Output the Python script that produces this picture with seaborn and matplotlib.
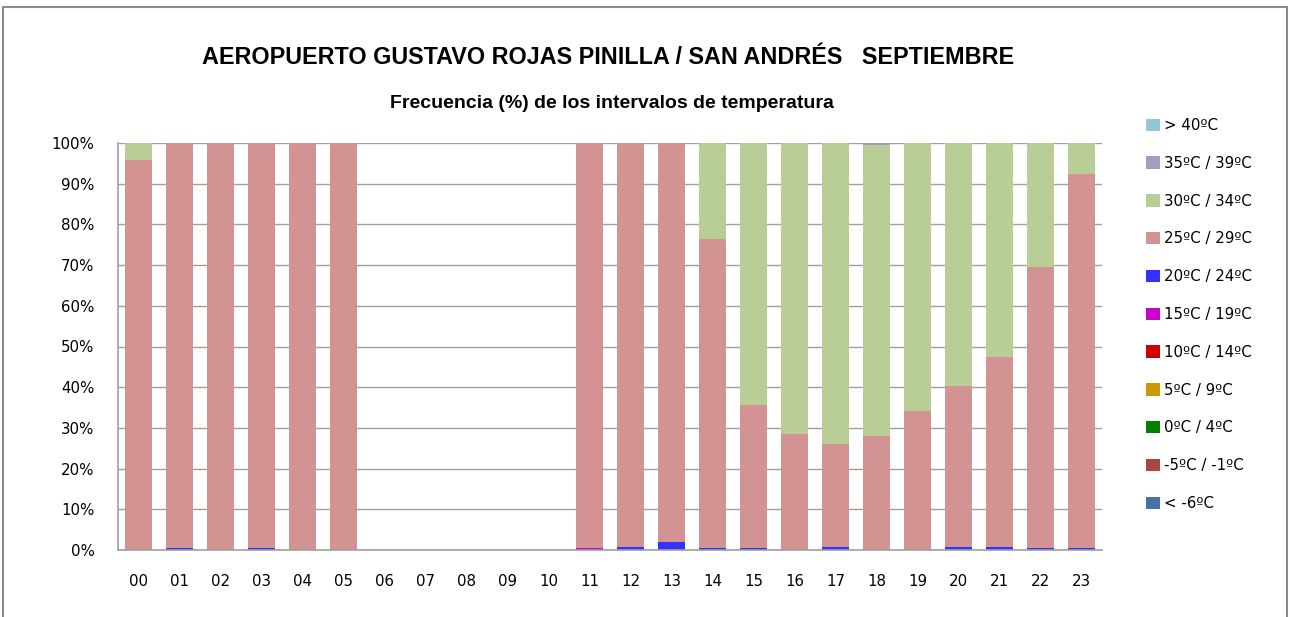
import matplotlib
matplotlib.use("Agg")
import matplotlib.pyplot as plt
from matplotlib.patches import Patch
from matplotlib.lines import Line2D
import seaborn as sns
import pandas as pd

hours = ['00', '01', '02', '03', '04', '05', '06', '07', '08', '09', '10', '11',
         '12', '13', '14', '15', '16', '17', '18', '19', '20', '21', '22', '23']

intervals = ['> 40ºC', '35ºC / 39ºC', '30ºC / 34ºC', '25ºC / 29ºC', '20ºC / 24ºC',
             '15ºC / 19ºC', '10ºC / 14ºC', '5ºC / 9ºC', '0ºC / 4ºC', '-5ºC / -1ºC', '< -6ºC']

colors = ['#93C6D6', '#A99BBD', '#B9CE96', '#D39392', '#3333FF',
          '#CC00CC', '#CC0000', '#CC9900', '#008000', '#AA4643', '#4572A7']

s_gt40   = [0, 0, 0, 0, 0, 0, 0, 0, 0, 0, 0, 0, 0, 0, 0, 0, 0, 0, 0, 0, 0, 0, 0, 0]
s_35_39  = [0, 0, 0, 0, 0, 0, 0, 0, 0, 0, 0, 0, 0, 0, 0, 0, 0, 0, 0.5, 0, 0, 0, 0, 0]
s_30_34  = [4.2, 0, 0, 0, 0, 0, 0, 0, 0, 0, 0, 0, 0, 0, 23.5, 64.4, 71.6, 74.0, 71.6, 65.8, 59.7, 52.7, 30.4, 7.7]
s_25_29  = [95.8, 99.6, 100, 99.6, 100, 100, 0, 0, 0, 0, 0, 99.6, 99.2, 98.0, 76.0, 35.1, 28.4, 25.2, 27.9, 34.2, 39.5, 46.5, 69.1, 91.8]
s_20_24  = [0, 0.4, 0, 0.4, 0, 0, 0, 0, 0, 0, 0, 0, 0.8, 2.0, 0.5, 0.5, 0, 0.8, 0, 0, 0.8, 0.8, 0.5, 0.5]
s_15_19  = [0, 0, 0, 0, 0, 0, 0, 0, 0, 0, 0, 0.4, 0, 0, 0, 0, 0, 0, 0, 0, 0, 0, 0, 0]
s_10_14  = [0, 0, 0, 0, 0, 0, 0, 0, 0, 0, 0, 0, 0, 0, 0, 0, 0, 0, 0, 0, 0, 0, 0, 0]
s_5_9    = [0, 0, 0, 0, 0, 0, 0, 0, 0, 0, 0, 0, 0, 0, 0, 0, 0, 0, 0, 0, 0, 0, 0, 0]
s_0_4    = [0, 0, 0, 0, 0, 0, 0, 0, 0, 0, 0, 0, 0, 0, 0, 0, 0, 0, 0, 0, 0, 0, 0, 0]
s_m5_m1  = [0, 0, 0, 0, 0, 0, 0, 0, 0, 0, 0, 0, 0, 0, 0, 0, 0, 0, 0, 0, 0, 0, 0, 0]
s_lt_m6  = [0, 0, 0, 0, 0, 0, 0, 0, 0, 0, 0, 0, 0, 0, 0, 0, 0, 0, 0, 0, 0, 0, 0, 0]

series = [s_gt40, s_35_39, s_30_34, s_25_29, s_20_24, s_15_19,
          s_10_14, s_5_9, s_0_4, s_m5_m1, s_lt_m6]

rows = []
for name, vals in zip(intervals, series):
    for i, v in enumerate(vals):
        rows.append({'hour': i, 'interval': name, 'pct': v})
df = pd.DataFrame(rows)

sns.set_theme(style='white')
plt.rcParams['font.family'] = ['DejaVu Sans']
plt.rcParams['text.color'] = 'black'
plt.rcParams['xtick.color'] = 'black'
plt.rcParams['ytick.color'] = 'black'

fig = plt.figure(figsize=(12.9, 6.17), dpi=100)
ax = fig.add_axes([118 / 1290, 1 - 550 / 617, (1102 - 118) / 1290, (550 - 143) / 617])

palette = dict(zip(intervals, colors))
sns.histplot(data=df, x='hour', hue='interval', weights='pct', hue_order=intervals,
             palette=palette, multiple='stack', discrete=True, shrink=0.65,
             alpha=1, linewidth=0, legend=False, ax=ax)

ax.set_xlim(-0.5, 23.5)
ax.set_ylim(0, 100)
ax.set_yticks(range(0, 101, 10))
ax.set_yticklabels([f'{v}%' for v in range(0, 101, 10)], fontsize=10.8)
ax.set_xticks(range(24))
ax.set_xticklabels(hours, fontsize=10.8)
ax.tick_params(axis='both', length=0, colors='black')
ax.tick_params(axis='x', pad=17)
ax.tick_params(axis='y', pad=17)
ax.set_xlabel('')
ax.set_ylabel('')
ax.grid(axis='y', color='#A0A0A0', linewidth=1.0)
ax.set_axisbelow(True)
for side in ['top', 'right']:
    ax.spines[side].set_visible(False)
for side in ['left', 'bottom']:
    ax.spines[side].set_color('#A0A0A0')
    ax.spines[side].set_linewidth(1.2)

fig.text(0.471, 1 - 57 / 617, 'AEROPUERTO GUSTAVO ROJAS PINILLA / SAN ANDRÉS   SEPTIEMBRE',
         ha='center', va='center', fontsize=16.8, fontweight='bold', color='black',
         family=['Liberation Sans', 'DejaVu Sans'])
fig.text(0.474, 1 - 103 / 617, 'Frecuencia (%) de los intervalos de temperatura',
         ha='center', va='center', fontsize=14, fontweight='bold', color='black',
         family=['Liberation Sans', 'DejaVu Sans'])

handles = [Patch(facecolor=c, edgecolor='none') for c in colors]
fig.legend(handles, intervals, loc='upper left',
           bbox_to_anchor=(1140 / 1290, 1 - 112 / 617), frameon=False,
           fontsize=10.8, handlelength=0.9, handleheight=0.9,
           handletextpad=0.3, labelspacing=1.52, borderaxespad=0)

# outer chart border (top, left, right)
top = 1 - 7 / 617
for xs, ys in [([3 / 1290, 1287 / 1290], [top, top]),
               ([3 / 1290, 3 / 1290], [0, top]),
               ([1287 / 1290, 1287 / 1290], [0, top])]:
    fig.add_artist(Line2D(xs, ys, transform=fig.transFigure, color='#8C8C8C', linewidth=1.5))

fig.savefig('out.png', dpi=100)
